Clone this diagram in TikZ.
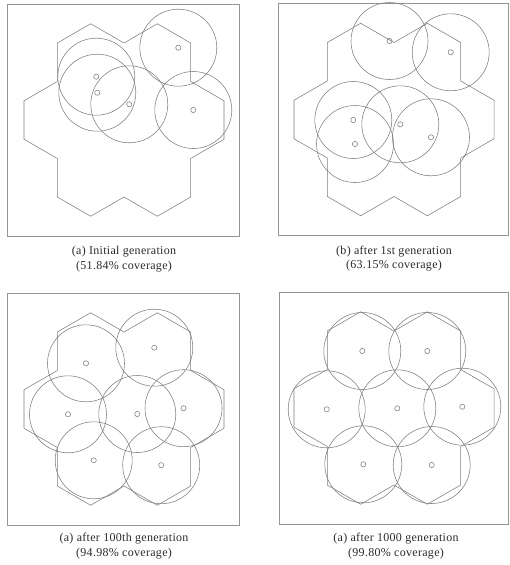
\documentclass[tikz,border=0pt]{standalone}
\usepackage{fontspec}
\setmainfont{Liberation Serif}
\newfontfamily\capfont[LetterSpace=2.5]{Liberation Serif}
\usetikzlibrary{positioning}
\definecolor{Ink}{HTML}{2B2B2B}
\definecolor{Wire}{HTML}{7C7C7C}
\definecolor{Rim}{HTML}{959595}

\tikzset{
  frame/.style={draw=Rim,line width=0.6pt},
  outline/.style={draw=Wire,line width=0.55pt,line join=miter},
  sensor/.style={draw=Wire,line width=0.55pt},
  caption/.style={align=center,text=Ink,inner sep=0pt,font=\capfont\fontsize{12}{14.6}\selectfont}
}

\begin{document}
\begin{tikzpicture}[x=1pt,y=-1pt]
\useasboundingbox (0,0) rectangle (509,565);
% panel frames
\draw[frame] (7,4) rectangle (239,236);
\draw[frame] (278,3) rectangle (508,235);
\draw[frame] (7,293) rectangle (239,525);
\draw[frame] (279,292) rectangle (508.5,524);
% target area: seven hexagons, R=38.5
\foreach \cx/\cy in {124/120,394/119.5,124/409,394/408}
  \draw[outline,shift={(\cx,\cy)}] (-33.34,-96.25) -- (0,-77) -- (33.34,-96.25) -- (66.68,-77) -- (66.68,-38.5) -- (100.02,-19.25) -- (100.02,19.25) -- (66.68,38.5) -- (66.68,77) -- (33.34,96.25) -- (0,77) -- (-33.34,96.25) -- (-66.68,77) -- (-66.68,38.5) -- (-100.02,19.25) -- (-100.02,-19.25) -- (-66.68,-38.5) -- (-66.68,-77) -- cycle;
% (a) initial generation
\draw[sensor] (178.3,47.7) circle (38.5) (178.3,47.7) circle (2.6);
\draw[sensor] (96.3,76.7) circle (38.5) (96.3,76.7) circle (2.6);
\draw[sensor] (97.3,92.7) circle (38.5) (97.3,92.7) circle (2.6);
\draw[sensor] (129.3,104.3) circle (38.5) (129.3,104.3) circle (2.6);
\draw[sensor] (193.3,110) circle (38.5) (193.3,110) circle (2.6);
% (b) after 1st generation
\draw[sensor] (389.5,41) circle (38.5) (389.5,41) circle (2.6);
\draw[sensor] (450.7,52.3) circle (38.5) (450.7,52.3) circle (2.6);
\draw[sensor] (353.3,120) circle (38.5) (353.3,120) circle (2.6);
\draw[sensor] (355,144) circle (38.5) (355,144) circle (2.6);
\draw[sensor] (400.3,124.3) circle (38.5) (400.3,124.3) circle (2.6);
\draw[sensor] (431,137.3) circle (38.5) (431,137.3) circle (2.6);
% after 100th generation
\draw[sensor] (86,363.3) circle (38.5) (86,363.3) circle (2.6);
\draw[sensor] (154.3,347.7) circle (38.5) (154.3,347.7) circle (2.6);
\draw[sensor] (68,414.3) circle (38.5) (68,414.3) circle (2.6);
\draw[sensor] (137.3,414) circle (38.5) (137.3,414) circle (2.6);
\draw[sensor] (183.5,408.2) circle (38.5) (183.5,408.2) circle (2.6);
\draw[sensor] (93.7,460.3) circle (38.5) (93.7,460.3) circle (2.6);
\draw[sensor] (161.2,465.2) circle (38.5) (161.2,465.2) circle (2.6);
% after 1000 generation
\draw[sensor] (362.3,351) circle (38.5) (362.3,351) circle (2.6);
\draw[sensor] (427.3,351) circle (38.5) (427.3,351) circle (2.6);
\draw[sensor] (326.7,409.3) circle (38.5) (326.7,409.3) circle (2.6);
\draw[sensor] (397.3,408.3) circle (38.5) (397.3,408.3) circle (2.6);
\draw[sensor] (462.3,406.7) circle (38.5) (462.3,406.7) circle (2.6);
\draw[sensor] (363.3,464.3) circle (38.5) (363.3,464.3) circle (2.6);
\draw[sensor] (431.7,465) circle (38.5) (431.7,465) circle (2.6);
% captions
\node[caption] (capa) at (124,259) {(a) Initial generation\\(51.84\% coverage)};
\node[caption] (capb) at (394,258.5) {(b) after 1st generation\\(63.15\% coverage)};
\node[caption] (capc) at (124,546) {(a) after 100th generation\\(94.98\% coverage)};
\node[caption] (capd) at (396,546) {(a) after 1000 generation\\(99.80\% coverage)};
\end{tikzpicture}
\end{document}
